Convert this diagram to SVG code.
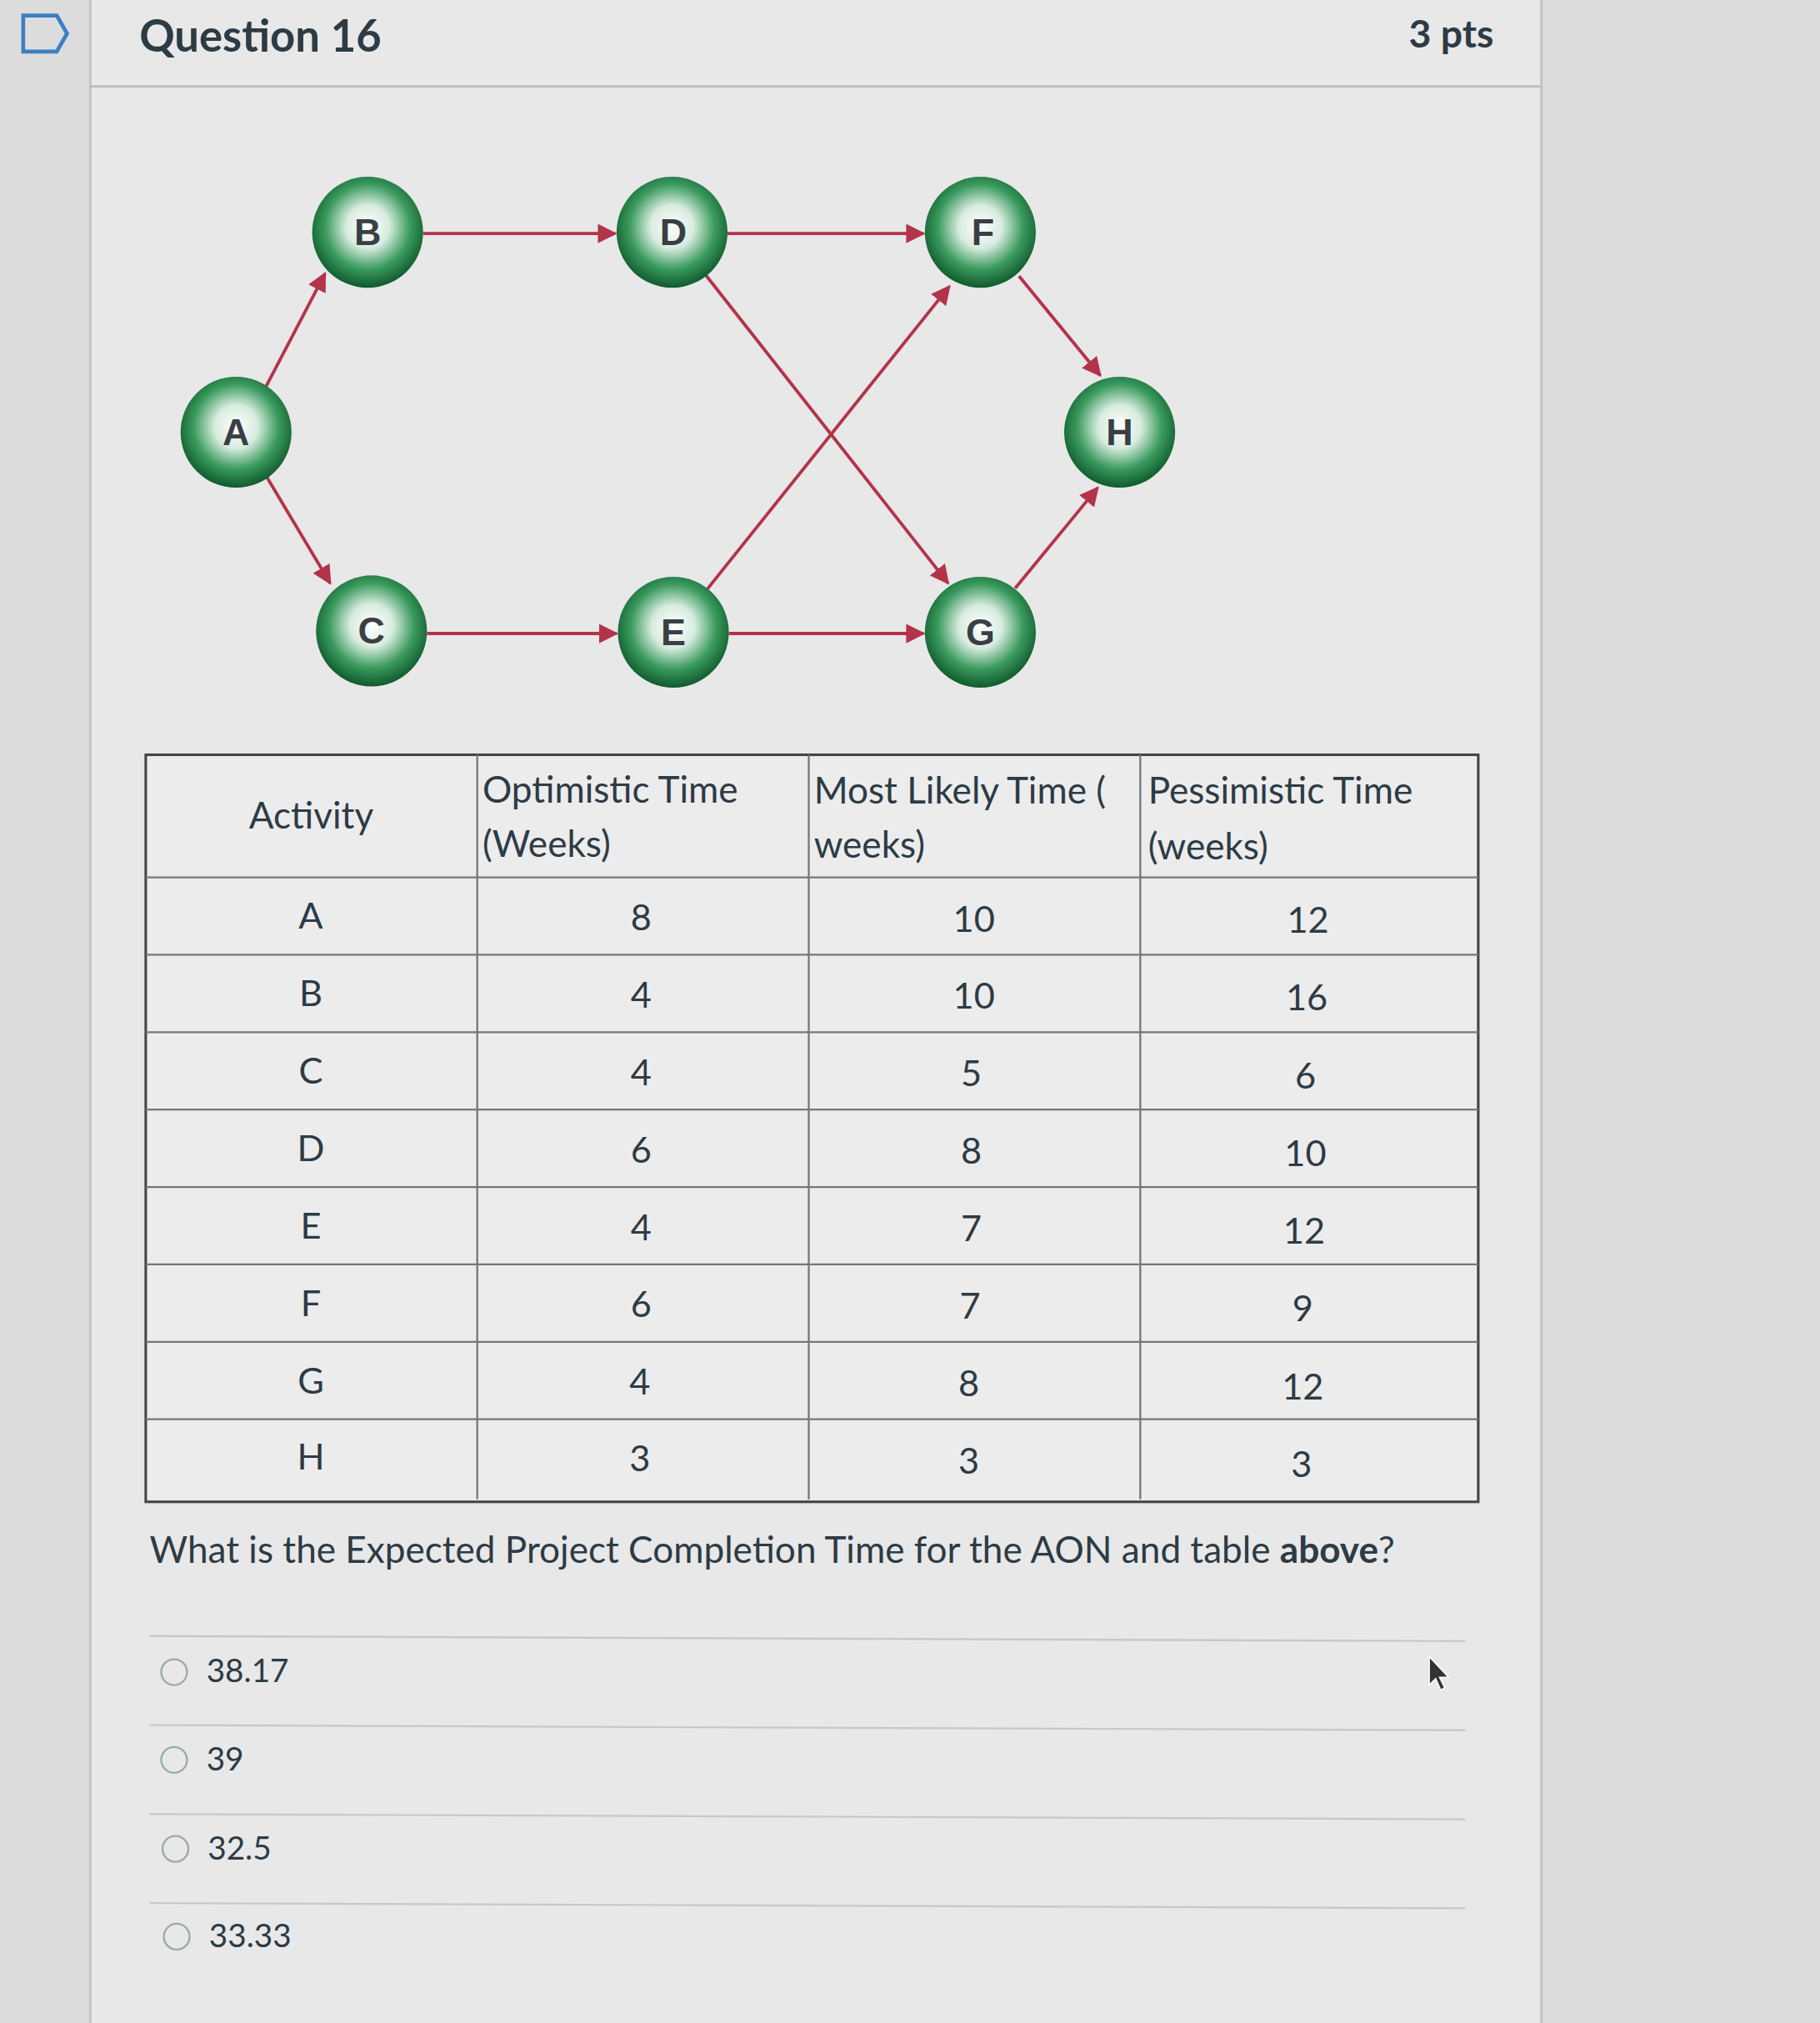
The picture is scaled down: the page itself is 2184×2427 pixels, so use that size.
<svg xmlns="http://www.w3.org/2000/svg" width="2184" height="2427" viewBox="0 0 2184 2427">
<defs>
<radialGradient id="g" cx="0.5" cy="0.45" r="0.55">
<stop offset="0" stop-color="#ffffff"/><stop offset="0.35" stop-color="#d8ecdf"/><stop offset="0.7" stop-color="#3a9a5e"/><stop offset="1" stop-color="#0f5a2c"/>
</radialGradient>
<marker id="ah" viewBox="0 0 10 10" refX="9" refY="5" markerWidth="6" markerHeight="6" orient="auto"><path d="M0,0 L10,5 L0,10 z" fill="#b3344a"/></marker>
</defs>
<style>
.t{font-family:Lato,"Liberation Sans",sans-serif;fill:#2d3b45}
.c{font-size:28px;text-anchor:middle}
.h{font-size:28.5px}
.n{font-family:"Liberation Sans",sans-serif;font-size:29px;font-weight:bold;text-anchor:middle;fill:#3a3f44}
.e{stroke:#b3344a;stroke-width:2.5;fill:none;marker-end:url(#ah)}
.gl{stroke:#777;stroke-width:1.5}
.r{fill:none;stroke:#9aa;stroke-width:1.5}
</style>
<g transform="scale(1.5479)">
<rect width="1411" height="1568" fill="#dcdcdc"/>
<rect x="70" y="0" width="1125" height="1568" fill="#e8e8e8"/>
<line x1="70" y1="0" x2="70" y2="1568" stroke="#c4c4c4" stroke-width="2"/>
<line x1="1195" y1="0" x2="1195" y2="1568" stroke="#c4c4c4" stroke-width="2"/>
<line x1="70" y1="67" x2="1195" y2="67" stroke="#bdbdbd" stroke-width="2"/>
<path d="M18,12 H44 L52,26 L44,40 H18 Z" fill="none" stroke="#3b7fc4" stroke-width="3"/>
<text class="t" x="108" y="40" font-size="34" font-weight="bold">Question 16</text>
<text class="t" x="1158" y="37" font-size="30" font-weight="bold" text-anchor="end">3 pts</text>
<g id="connectors">
<line class="e" x1="206" y1="300" x2="252" y2="212"/>
<line class="e" x1="207" y1="370" x2="256" y2="452"/>
<line class="e" x1="328" y1="181" x2="477" y2="181"/>
<line class="e" x1="331" y1="491" x2="478" y2="491"/>
<line class="e" x1="564" y1="181" x2="716" y2="181"/>
<line class="e" x1="565" y1="491" x2="716" y2="491"/>
<line class="e" x1="547" y1="213" x2="735" y2="452"/>
<line class="e" x1="548" y1="457" x2="736" y2="222"/>
<line class="e" x1="790" y1="214" x2="853" y2="291"/>
<line class="e" x1="787" y1="456" x2="851" y2="378"/>
</g>
<g id="A"><circle cx="183" cy="335" r="43" fill="url(#g)"/><text class="n" x="183" y="345">A</text></g>
<g id="B"><circle cx="285" cy="180" r="43" fill="url(#g)"/><text class="n" x="285" y="190">B</text></g>
<g id="C"><circle cx="288" cy="489" r="43" fill="url(#g)"/><text class="n" x="288" y="499">C</text></g>
<g id="D"><circle cx="521" cy="180" r="43" fill="url(#g)"/><text class="n" x="522" y="190">D</text></g>
<g id="E"><circle cx="522" cy="490" r="43" fill="url(#g)"/><text class="n" x="522" y="500">E</text></g>
<g id="F"><circle cx="760" cy="180" r="43" fill="url(#g)"/><text class="n" x="762" y="190">F</text></g>
<g id="G"><circle cx="760" cy="490" r="43" fill="url(#g)"/><text class="n" x="760" y="500">G</text></g>
<g id="H"><circle cx="868" cy="335" r="43" fill="url(#g)"/><text class="n" x="868" y="345">H</text></g>
<g id="table">
<rect x="113" y="585" width="1033" height="579" fill="#ececec" stroke="#444" stroke-width="2"/>
<line class="gl" x1="370" y1="585" x2="370" y2="1162"/>
<line class="gl" x1="627" y1="585" x2="627" y2="1162"/>
<line class="gl" x1="884" y1="585" x2="884" y2="1162"/>
<line class="gl" x1="113" y1="680" x2="1146" y2="680"/>
<line class="gl" x1="113" y1="740" x2="1146" y2="740"/>
<line class="gl" x1="113" y1="800" x2="1146" y2="800"/>
<line class="gl" x1="113" y1="860" x2="1146" y2="860"/>
<line class="gl" x1="113" y1="920" x2="1146" y2="920"/>
<line class="gl" x1="113" y1="980" x2="1146" y2="980"/>
<line class="gl" x1="113" y1="1040" x2="1146" y2="1040"/>
<line class="gl" x1="113" y1="1100" x2="1146" y2="1100"/>
<text class="t h" x="193" y="642">Activity</text>
<text class="t h" x="374" y="622">Optimistic Time</text><text class="t h" x="374" y="664">(Weeks)</text>
<text class="t h" x="631" y="623">Most Likely Time (</text><text class="t h" x="631" y="665">weeks)</text>
<text class="t h" x="890" y="623">Pessimistic Time</text><text class="t h" x="890" y="666">(weeks)</text>
<g class="t c">
<text x="241" y="720">A</text><text x="497" y="721">8</text><text x="755" y="722">10</text><text x="1014" y="723">12</text>
<text x="241" y="780">B</text><text x="497" y="781">4</text><text x="755" y="782">10</text><text x="1013" y="783">16</text>
<text x="241" y="840">C</text><text x="497" y="841">4</text><text x="753" y="842">5</text><text x="1012" y="844">6</text>
<text x="241" y="900">D</text><text x="497" y="901">6</text><text x="753" y="902">8</text><text x="1012" y="904">10</text>
<text x="241" y="960">E</text><text x="497" y="961">4</text><text x="753" y="962">7</text><text x="1011" y="964">12</text>
<text x="241" y="1020">F</text><text x="497" y="1021">6</text><text x="752" y="1022">7</text><text x="1010" y="1024">9</text>
<text x="241" y="1080">G</text><text x="496" y="1081">4</text><text x="751" y="1082">8</text><text x="1010" y="1085">12</text>
<text x="241" y="1139">H</text><text x="496" y="1140">3</text><text x="751" y="1142">3</text><text x="1009" y="1145">3</text>
</g>
</g>
<text class="t" x="116" y="1211" font-size="28.5">What is the Expected Project Completion Time for the AON and table <tspan font-weight="bold">above</tspan>?</text>
<line x1="116" y1="1268" x2="1136" y2="1272" stroke="#c8c8c8" stroke-width="1.5"/>
<line x1="116" y1="1337" x2="1136" y2="1341" stroke="#c8c8c8" stroke-width="1.5"/>
<line x1="116" y1="1406" x2="1136" y2="1410" stroke="#c8c8c8" stroke-width="1.5"/>
<line x1="116" y1="1475" x2="1136" y2="1479" stroke="#c8c8c8" stroke-width="1.5"/>
<circle class="r" cx="135" cy="1296" r="10"/><text class="t" x="160" y="1304" font-size="25">38.17</text>
<circle class="r" cx="135" cy="1364" r="10"/><text class="t" x="160" y="1372" font-size="25">39</text>
<circle class="r" cx="136" cy="1433" r="10"/><text class="t" x="161" y="1441" font-size="25">32.5</text>
<circle class="r" cx="137" cy="1501" r="10"/><text class="t" x="162" y="1509" font-size="25">33.33</text>
<path d="M1108,1284 L1108,1306 L1113,1301 L1117,1310 L1120,1308 L1116,1300 L1123,1300 Z" fill="#333" stroke="#fff" stroke-width="1"/>
</g>
</svg>
